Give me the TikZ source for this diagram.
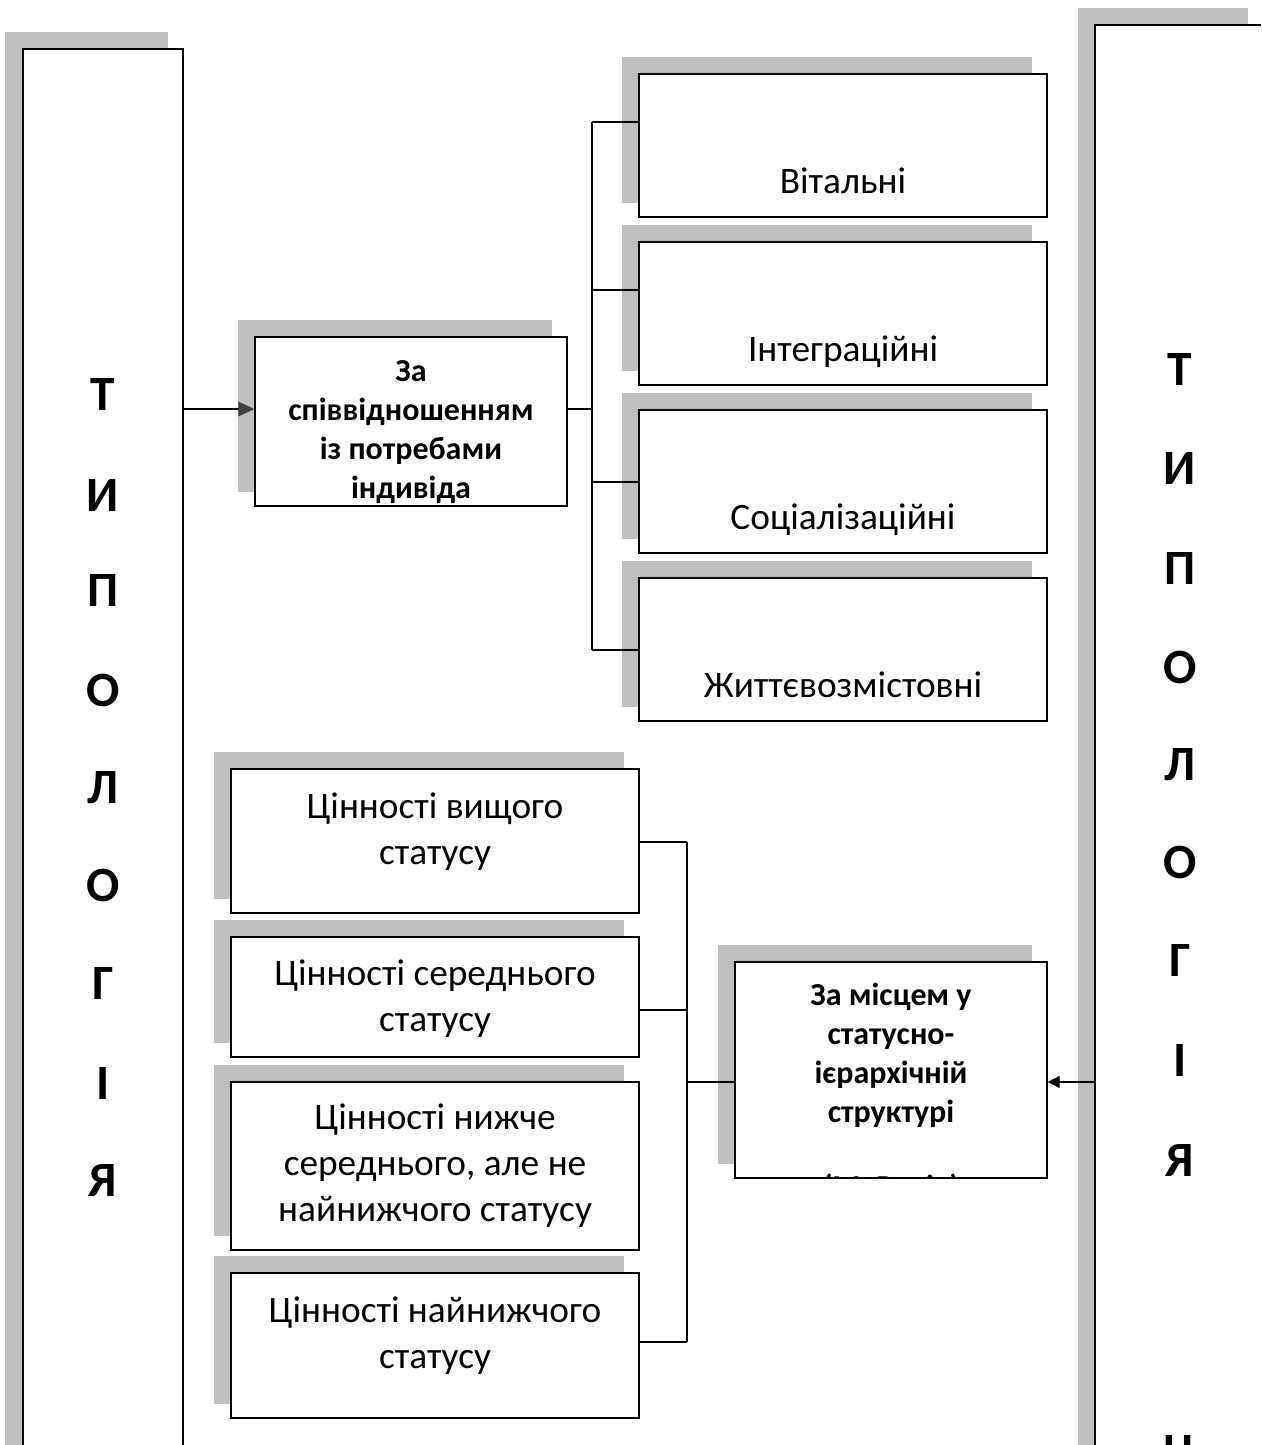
\documentclass[tikz,border=0pt]{standalone}
\usepackage{fontspec}
\setmainfont{Carlito}
\usetikzlibrary{fit,arrows.meta}
\definecolor{shadegrey}{RGB}{191,191,191}
\definecolor{tipgrey}{RGB}{64,64,64}
\tikzset{
  box/.style={draw=black, line width=1.1pt, fill=white, inner sep=0pt},
  bigbox/.style={draw=black, line width=1.6pt, fill=white, inner sep=0pt},
  backshadow/.style={fill=shadegrey, draw=none},
  reg/.style={font=\fontsize{28}{34.5}\selectfont, align=center, inner sep=0pt},
  bld/.style={font=\fontsize{24}{29.25}\selectfont\bfseries, align=center, inner sep=0pt},
  big/.style={font=\fontsize{37}{40}\selectfont\bfseries, inner sep=0pt},
  conn/.style={draw=black, line width=1pt},
}
\newcommand\mybox[5]{%
  \path[backshadow] ({#2-17},{#3-17}) rectangle ({#4-15},{#5-14});
  \node[box, fit={(#2,#3)(#4,#5)}] (#1) {};}
\begin{document}
\begin{tikzpicture}[x=0.75pt,y=-0.75pt]
\useasboundingbox (0,0) rectangle (1261,1445);
\clip (0,0) rectangle (1261,1445);
% big side boxes
\path[backshadow] (5,32) rectangle (168,1460);
\node[bigbox, fit={(23,49)(183,1470)}] (lbig) {};
\path[backshadow] (1078,8) rectangle (1248,1460);
\node[bigbox, fit={(1095,25)(1290,1470)}] (rbig) {};
\foreach \t/\y [count=\i] in {Т/395,И/495,П/590,О/690,Л/788,О/885,Г/983,І/1083,Я/1180}
  \node[big] (l\i) at (103,\y) {\t};
\foreach \t/\y [count=\i] in {Т/370,И/468,П/568,О/667,Л/765,О/862,Г/960,І/1060,Я/1160,Ц/1455}
  \node[big] (r\i) at (1180,\y) {\t};
% upper group
\mybox{sp}{255}{337}{567}{506}
\begin{scope}
  \clip (255,337) rectangle (567,506);
  \node[bld] (spt) at (411,432) {За\\співвідношенням\\із потребами\\індивіда};
\end{scope}
\mybox{vit}{639}{74}{1047}{217}
\mybox{int}{639}{242}{1047}{385}
\mybox{soc}{639}{410}{1047}{553}
\mybox{zhy}{639}{578}{1047}{721}
\node[reg, anchor=base] (vitt) at (843,193) {Вітальні};
\node[reg, anchor=base] (intt) at (843,361) {Інтеграційні};
\node[reg, anchor=base] (soct) at (843,529) {Соціалізаційні};
\node[reg, anchor=base] (zhyt) at (843,697) {Життєвозмістовні};
% connectors upper
\coordinate (a1) at (183,409);
\draw[conn, -{Triangle[length=12pt,width=11pt,color=tipgrey]}] (a1) -- (sp.west |- a1);
\coordinate (jm) at (592,409);
\coordinate (jt) at (592,122);
\coordinate (jb) at (592,650);
\draw[conn] (sp.east |- jm) -- (jm);
\draw[conn] (jt) -- (jb);
\draw[conn] (jt) -- (vit.west |- jt);
\coordinate (j2) at (592,290);
\draw[conn] (j2) -- (int.west |- j2);
\coordinate (j3) at (592,482);
\draw[conn] (j3) -- (soc.west |- j3);
\draw[conn] (jb) -- (zhy.west |- jb);
% lower group
\mybox{c1}{231}{769}{639}{913}
\mybox{c2}{231}{937}{639}{1057}
\mybox{c3}{231}{1082}{639}{1250}
\mybox{c4}{231}{1273}{639}{1418}
\node[reg] (c1t) at (435,832) {Цінності вищого\\статусу};
\node[reg] (c2t) at (435,999) {Цінності середнього\\статусу};
\node[reg] (c3t) at (435,1166) {Цінності нижче\\середнього, але не\\найнижчого статусу};
\node[reg] (c4t) at (435,1336) {Цінності найнижчого\\статусу};
\mybox{pl}{735}{962}{1047}{1178}
\begin{scope}
  \clip (735,962) rectangle (1047,1178);
  \node[bld] (plt) at (891,1055) {За місцем у\\статусно-\\ієрархічній\\структурі};
  \node[bld] (pla) at (891,1188) {(М. Рокіч)};
\end{scope}
\coordinate (k1) at (687,842);
\coordinate (k2) at (687,1010);
\coordinate (k3) at (687,1082);
\coordinate (k4) at (687,1342);
\draw[conn] (k1) -- (k4);
\draw[conn] (c1.east |- k1) -- (k1);
\draw[conn] (c2.east |- k2) -- (k2);
\draw[conn] (c4.east |- k4) -- (k4);
\draw[conn] (k3) -- (pl.west |- k3);
\coordinate (a2) at (1095,1082);
\draw[conn, -{Triangle[length=9pt,width=9pt]}] (a2) -- (pl.east |- a2);
\end{tikzpicture}
\end{document}
